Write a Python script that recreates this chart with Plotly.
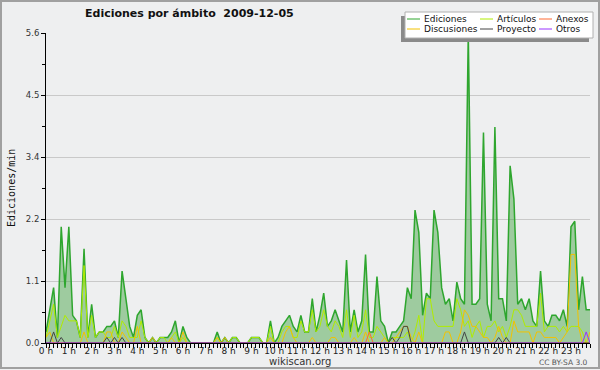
import plotly.graph_objects as go

# 10-minute slots across the day (0 = 00:00, 143 = 23:50)
slots = list(range(144))

hour_slots = [0, 6, 12, 18, 24, 30, 36, 42, 48, 54, 60, 66,
              72, 78, 84, 90, 96, 102, 108, 114, 120, 126, 132, 138]
hour_labels = ["0 h", "1 h", "2 h", "3 h", "4 h", "5 h", "6 h", "7 h",
               "8 h", "9 h", "10 h", "11 h", "12 h", "13 h", "14 h", "15 h",
               "16 h", "17 h", "18 h", "19 h", "20 h", "21 h", "22 h", "23 h"]

y_ticks = [0, 1.12, 2.24, 3.36, 4.48, 5.6]
y_labels = ["0.0", "1.1", "2.2", "3.4", "4.5", "5.6"]

ediciones = [
    0.2, 0.6, 1.0, 0.1, 2.1, 1.0,
    2.1, 0.5, 0.4, 0.1, 1.7, 0.1,
    0.7, 0.1, 0.2, 0.2, 0.3, 0.3,
    0.4, 0.1, 1.3, 0.8, 0.3, 0.1,
    0.5, 0.6, 0.1, 0.0, 0.1, 0.0,
    0.1, 0.1, 0.1, 0.2, 0.4, 0.0,
    0.3, 0.1, 0.0, 0.0, 0.0, 0.0,
    0.0, 0.0, 0.0, 0.2, 0.0, 0.1,
    0.0, 0.1, 0.1, 0.0, 0.0, 0.0,
    0.1, 0.1, 0.1, 0.0, 0.0, 0.4,
    0.0, 0.1, 0.3, 0.4, 0.5, 0.3,
    0.2, 0.5, 0.2, 0.2, 0.8, 0.2,
    0.5, 0.9, 0.3, 0.4, 0.6, 0.4,
    0.2, 1.5, 0.2, 0.6, 0.2, 0.4,
    1.6, 0.2, 0.2, 1.2, 0.4, 0.3,
    0.0, 0.2, 0.2, 0.3, 0.4, 1.0,
    0.8, 2.4, 2.0, 0.5, 0.9, 0.8,
    2.4, 2.0, 1.0, 0.7, 0.8, 0.4,
    1.1, 0.8, 0.7, 5.6, 0.7, 0.7,
    0.8, 3.8, 0.7, 0.4, 3.9, 0.8,
    0.8, 0.4, 3.2, 2.6, 0.7, 0.8,
    0.6, 0.8, 0.4, 0.3, 1.3, 0.4,
    0.3, 0.5, 0.5, 0.4, 0.6, 0.3,
    2.1, 2.2, 0.6, 1.2, 0.6, 0.6,
]

articulos = [
    0.1, 0.4, 0.7, 0.1, 0.3, 0.5,
    0.4, 0.4, 0.4, 0.1, 1.4, 0.1,
    0.5, 0.1, 0.2, 0.2, 0.1, 0.1,
    0.3, 0.1, 0.4, 0.3, 0.1, 0.1,
    0.1, 0.4, 0.1, 0.0, 0.0, 0.0,
    0.1, 0.1, 0.0, 0.1, 0.2, 0.0,
    0.1, 0.0, 0.0, 0.0, 0.0, 0.0,
    0.0, 0.0, 0.0, 0.1, 0.0, 0.0,
    0.0, 0.1, 0.1, 0.0, 0.0, 0.0,
    0.1, 0.1, 0.1, 0.0, 0.0, 0.3,
    0.0, 0.0, 0.2, 0.3, 0.3, 0.1,
    0.1, 0.4, 0.2, 0.2, 0.6, 0.2,
    0.3, 0.6, 0.3, 0.2, 0.4, 0.3,
    0.1, 0.6, 0.1, 0.5, 0.1, 0.2,
    0.6, 0.1, 0.1, 0.3, 0.2, 0.1,
    0.0, 0.1, 0.1, 0.1, 0.1, 0.2,
    0.0, 0.2, 0.5, 0.0, 0.8, 0.8,
    0.4, 0.3, 0.3, 0.3, 0.3, 0.3,
    0.8, 0.6, 0.3, 0.4, 0.1, 0.3,
    0.4, 0.1, 0.3, 0.3, 0.4, 0.2,
    0.3, 0.1, 0.3, 0.6, 0.6, 0.5,
    0.3, 0.3, 0.3, 0.3, 0.9, 0.2,
    0.3, 0.3, 0.3, 0.2, 0.3, 0.2,
    0.3, 0.3, 0.3, 0.2, 0.0, 0.0,
]

discusiones = [
    0.1, 0.2, 0.0, 0.0, 0.0, 0.0,
    0.0, 0.0, 0.0, 0.0, 0.2, 0.0,
    0.0, 0.0, 0.0, 0.0, 0.2, 0.2,
    0.0, 0.0, 0.2, 0.1, 0.0, 0.0,
    0.3, 0.0, 0.0, 0.0, 0.1, 0.0,
    0.0, 0.0, 0.0, 0.1, 0.0, 0.0,
    0.2, 0.0, 0.0, 0.0, 0.0, 0.0,
    0.0, 0.0, 0.0, 0.1, 0.0, 0.1,
    0.0, 0.0, 0.0, 0.0, 0.0, 0.0,
    0.0, 0.0, 0.0, 0.0, 0.0, 0.1,
    0.0, 0.0, 0.0, 0.2, 0.3, 0.1,
    0.0, 0.0, 0.0, 0.0, 0.1, 0.0,
    0.0, 0.0, 0.0, 0.1, 0.1, 0.0,
    0.0, 0.0, 0.0, 0.1, 0.0, 0.0,
    0.2, 0.0, 0.0, 0.0, 0.0, 0.1,
    0.0, 0.0, 0.1, 0.2, 0.3, 0.3,
    0.1, 0.0, 0.2, 0.0, 0.0, 0.0,
    0.0, 0.0, 0.0, 0.2, 0.2, 0.0,
    0.0, 0.2, 0.6, 0.5, 0.3, 0.3,
    0.2, 0.1, 0.1, 0.0, 0.1, 0.3,
    0.1, 0.0, 0.0, 0.4, 0.2, 0.2,
    0.2, 0.2, 0.0, 0.2, 0.2, 0.1,
    0.1, 0.1, 0.1, 0.0, 0.1, 0.2,
    1.6, 1.6, 0.3, 0.0, 0.0, 0.2,
]

anexos = [0.0] * 144
anexos[85] = 0.2

proyecto = [
    0.0, 0.0, 0.2, 0.0, 0.1, 0.0,
    0.0, 0.0, 0.0, 0.0, 0.0, 0.0,
    0.0, 0.0, 0.0, 0.0, 0.1, 0.0,
    0.1, 0.0, 0.1, 0.0, 0.0, 0.0,
] + [0.0] * 66 + [
    0.0, 0.1, 0.0, 0.1, 0.3, 0.3,
    0.0, 0.0, 0.0, 0.0, 0.0, 0.0,
    0.0, 0.0, 0.0, 0.0, 0.0, 0.0,
    0.0, 0.0, 0.2, 0.0, 0.0, 0.0,
    0.0, 0.0, 0.0, 0.0, 0.0, 0.1,
    0.0, 0.1, 0.0, 0.0, 0.0, 0.0,
    0.0, 0.0, 0.0, 0.0, 0.0, 0.0,
    0.0, 0.0, 0.0, 0.0, 0.0, 0.0,
    0.0, 0.0, 0.0, 0.0, 0.0, 0.0,
]

otros = [0.0] * 144
otros[142] = 0.2

series_names = ["Ediciones", "Artículos", "Discusiones", "Anexos", "Proyecto", "Otros"]
series_colors = ["#2ea62e", "#b0ec00", "#f2c200", "#ff6a33", "#444444", "#9933ff"]
series_values = [ediciones, articulos, discusiones, anexos, proyecto, otros]

BG = "#eeeff0"
W, H = 600, 370
L, R, T, B = 46, 10, 33, 27
PW, PH = W - L - R, H - T - B


def px(xp):
    return (xp - L) / PW


def py(yp):
    return (H - B - yp) / PH


fig = go.Figure()
fig.add_trace(go.Scatter(
    x=slots, y=ediciones, mode="lines", name="Ediciones",
    line=dict(color=series_colors[0], width=1.5),
    fill="tozeroy", fillcolor="rgba(60,160,60,0.45)",
))
for name, vals, col in zip(series_names[1:], series_values[1:], series_colors[1:]):
    fig.add_trace(go.Scatter(x=slots, y=vals, mode="lines", name=name,
                             line=dict(color=col, width=1)))

shapes = []
annotations = []

# outer border
shapes.append(dict(type="rect", xref="paper", yref="paper",
                   x0=px(1), x1=px(599), y0=py(1), y1=py(368),
                   line=dict(color="#a0a0a0", width=2), layer="below"))

# legend box with shadow
shapes.append(dict(type="rect", xref="paper", yref="paper",
                   x0=px(401), x1=px(589), y0=py(16), y1=py(42),
                   fillcolor="#8a8a8a", line=dict(width=0), layer="above"))
shapes.append(dict(type="rect", xref="paper", yref="paper",
                   x0=px(405), x1=px(593), y0=py(12), y1=py(38),
                   fillcolor="#ffffff", line=dict(color="#b0b0b0", width=1), layer="above"))

legend_layout = [("Ediciones", 407, 19), ("Artículos", 480, 19), ("Anexos", 539, 19),
                 ("Discusiones", 407, 29), ("Proyecto", 480, 29), ("Otros", 539, 29)]
for name, lx, ly in legend_layout:
    col = series_colors[series_names.index(name)]
    shapes.append(dict(type="line", xref="paper", yref="paper",
                       x0=px(lx), x1=px(lx + 13), y0=py(ly), y1=py(ly),
                       line=dict(color=col, width=1), layer="above"))
    annotations.append(dict(text=name, xref="paper", yref="paper",
                            x=px(lx + 15), y=py(ly), xanchor="left", yanchor="middle",
                            showarrow=False, font=dict(family="DejaVu Sans", size=9, color="#111")))

# title
annotations.append(dict(text="<b>Ediciones por ámbito \u00a02009-12-05</b>",
                        xref="paper", yref="paper", x=px(189), y=py(13),
                        xanchor="center", yanchor="middle", showarrow=False,
                        font=dict(family="DejaVu Sans", size=11, color="#111")))
# y title
annotations.append(dict(text="Ediciones/min", xref="paper", yref="paper",
                        x=px(11), y=py(188), textangle=-90,
                        xanchor="center", yanchor="middle", showarrow=False,
                        font=dict(family="DejaVu Sans Mono", size=10, color="#111")))
# footer
annotations.append(dict(text="wikiscan.org", xref="paper", yref="paper",
                        x=px(300), y=py(361), xanchor="center", yanchor="middle",
                        showarrow=False, font=dict(family="DejaVu Sans", size=10, color="#333")))
annotations.append(dict(text="CC BY-SA 3.0", xref="paper", yref="paper",
                        x=px(590), y=py(362), xanchor="right", yanchor="middle",
                        showarrow=False, font=dict(family="DejaVu Sans", size=7.5, color="#555")))

fig.update_layout(
    width=W, height=H,
    margin=dict(l=L, r=R, t=T, b=B, pad=0, autoexpand=False),
    paper_bgcolor=BG, plot_bgcolor=BG,
    showlegend=False,
    shapes=shapes, annotations=annotations,
    xaxis=dict(
        range=[0, 143], tickmode="array", tickvals=hour_slots, ticktext=hour_labels,
        ticks="outside", ticklen=4, tickcolor="#000", tickwidth=1,
        showline=True, linecolor="#000", linewidth=1,
        showgrid=False, zeroline=False, automargin=False, tickangle=0,
        tickfont=dict(family="DejaVu Sans", size=9, color="#222"),
        ticklabelstandoff=-5,
        minor=dict(tickmode="linear", tick0=0, dtick=1, ticks="outside",
                   ticklen=4, tickcolor="#000", tickwidth=1, showgrid=False),
        fixedrange=True,
    ),
    yaxis=dict(
        range=[0, 5.6], tickmode="array", tickvals=y_ticks, ticktext=y_labels,
        ticks="outside", ticklen=4, tickcolor="#000", tickwidth=1,
        showline=True, linecolor="#000", linewidth=1,
        showgrid=True, gridcolor="#c9c9c9", gridwidth=1,
        zeroline=False, automargin=False,
        tickfont=dict(family="DejaVu Sans", size=8.5, color="#333"),
        minor=dict(tickmode="linear", tick0=0, dtick=0.56, ticks="outside",
                   ticklen=3, tickcolor="#000", tickwidth=1, showgrid=False),
        fixedrange=True,
    ),
)

fig.write_html("out.html", config={"displayModeBar": False},
               post_script="document.body.style.margin='0';document.body.style.padding='0';")
